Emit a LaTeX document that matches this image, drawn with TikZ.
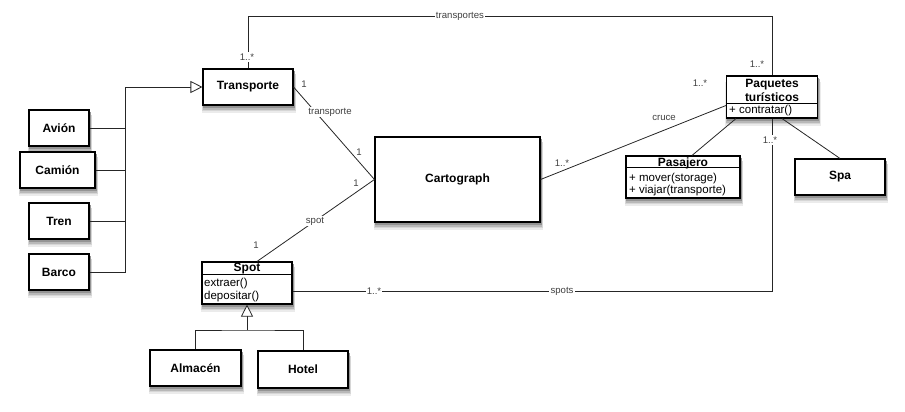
\documentclass[tikz,border=0pt]{standalone}
\usepackage{fontspec}
\setmainfont{Liberation Sans}
\usetikzlibrary{arrows.meta,calc,backgrounds}
\begin{document}
\begin{tikzpicture}[x=1pt,y=1pt,
  cls/.style={draw=black, line width=1.1pt, fill=white,
    inner sep=0pt, font=\fontsize{12}{13}\selectfont\bfseries},
  hdr/.style={inner sep=0pt, font=\fontsize{12}{14}\selectfont\bfseries, align=center},
  mem/.style={inner sep=0pt, anchor=west, font=\fontsize{11.5}{13}\selectfont},
  conn/.style={line width=0.8pt, draw=black!85},
  lbl/.style={font=\fontsize{9.6}{11}\selectfont, text=black!75, inner sep=1.2pt},
  onl/.style={lbl, fill=white},
  gen/.style={-{Triangle[open, length=12pt, width=12pt, fill=white]}},
]
\useasboundingbox (0,-412) rectangle (905,0);

% classes
\node[cls, minimum width=90pt, minimum height=36pt] (tr) at (248,-87) {Transporte};
\node[cls, minimum width=60pt, minimum height=36pt] (avion) at (59,-128) {Avión};
\node[cls, minimum width=75pt, minimum height=36pt] (camion) at (57.5,-170) {Camión};
\node[cls, minimum width=60pt, minimum height=36pt] (tren) at (59,-221) {Tren};
\node[cls, minimum width=60pt, minimum height=36pt] (barco) at (59,-272) {Barco};
\node[cls, minimum width=165pt, minimum height=85pt] (carto) at (457.5,-179.5) {Cartograph};
\node[cls, minimum width=90pt, minimum height=36pt] (spa) at (840,-177) {Spa};
\node[cls, minimum width=91pt, minimum height=36pt] (alm) at (195.5,-368) {Almacén};
\node[cls, minimum width=90pt, minimum height=37pt] (hotel) at (303,-369.5) {Hotel};

% Spot
\node[cls, minimum width=90pt, minimum height=42pt] (spot) at (247,-283) {};
\node[hdr] (spotn) at (247,-268.5) {Spot};
\draw[line width=1pt] ([yshift=-13pt]spot.north west) -- ([yshift=-13pt]spot.north east);
\node[mem] (spotm1) at (204,-283.5) {extraer()};
\node[mem] (spotm2) at (204,-297) {depositar()};

% Paquetes
\node[cls, minimum width=91pt, minimum height=42pt] (paq) at (772,-97) {};
\node[hdr] (paqn) at (772,-90) {Paquetes\\turísticos};
\draw[line width=1pt] ([yshift=-28pt]paq.north west) -- ([yshift=-28pt]paq.north east);
\node[mem] (paqm1) at (729,-111) {+ contratar()};

% Pasajero
\node[cls, minimum width=114pt, minimum height=42pt] (pas) at (683,-177) {};
\node[hdr] (pasn) at (683,-163) {Pasajero};
\draw[line width=1pt] ([yshift=-12.5pt]pas.north west) -- ([yshift=-12.5pt]pas.north east);
\node[mem] (pasm1) at (629,-178.5) {+ mover(storage)};
\node[mem] (pasm2) at (629,-191) {+ viajar(transporte)};

% shadows
\begin{pgfonlayer}{background}
\foreach \n in {tr,avion,camion,tren,barco,carto,spa,alm,hotel,spot,paq,pas}{
  \fill[black!8]  ([xshift=-0.5pt,yshift=-7pt]\n.south west) rectangle ([xshift=2.5pt,yshift=-7pt]\n.north east);
  \fill[black!16] ([xshift=0pt,yshift=-5.5pt]\n.south west) rectangle ([xshift=2pt,yshift=-5.5pt]\n.north east);
  \fill[black!28] ([xshift=0.5pt,yshift=-4pt]\n.south west) rectangle ([xshift=1.5pt,yshift=-4pt]\n.north east);
  \fill[black!42] ([xshift=1pt,yshift=-2.5pt]\n.south west) rectangle ([xshift=1pt,yshift=-2.5pt]\n.north east);
}
\end{pgfonlayer}

% generalization Transporte
\coordinate (bus) at (125,-87);
\draw[conn, gen] (bus) -- (tr.west);
\draw[conn] (bus) |- (barco.east);
\draw[conn] (avion.east) -- (avion.east -| bus);
\draw[conn] (camion.east) -- (camion.east -| bus);
\draw[conn] (tren.east) -- (tren.east -| bus);

% generalization Spot
\coordinate (sbus) at (247,-330);
\draw[conn] (alm.north) |- (sbus) -| (hotel.north);
\draw[conn, gen] (sbus) -- (spot.south);

% associations
\draw[conn] (tr.east) -- (carto.west);
\draw[conn] ([xshift=10pt]spot.north) -- (carto.west);
\draw[conn] (carto.east) -- ([yshift=-8.5pt]paq.west);
\draw[conn] ([xshift=-36pt]paq.south) -- ([xshift=9pt]pas.north);
\draw[conn] ([xshift=10pt]paq.south) -- (spa.north);
\coordinate (topy) at (0,-16);
\draw[conn] (tr.north) -- (tr.north |- topy) -| (paq.north);
\draw[conn] ([yshift=-8pt]spot.east) -| (paq.south);

% labels
\node[lbl] (l1) at (304,-84) {1};
\node[onl] (l2) at (330,-112) {transporte};
\node[onl] (l3) at (359,-152) {1};
\node[lbl] (l4) at (356,-183) {1};
\node[onl] (l5) at (315,-221) {spot};
\node[lbl] (l6) at (256,-245) {1};
\node[onl] (l7) at (247,-57) {1..*};
\node[onl] (l8) at (460,-16) {transportes};
\node[lbl] (l9) at (757,-64) {1..*};
\node[lbl] (l10) at (700,-83) {1..*};
\node[lbl] (l11) at (664,-118) {cruce};
\node[lbl] (l12) at (562,-163) {1..*};
\node[onl] (l13) at (770,-140) {1..*};
\node[onl] (l14) at (374,-291) {1..*};
\node[onl] (l15) at (562,-291) {spots};
\end{tikzpicture}
\end{document}
